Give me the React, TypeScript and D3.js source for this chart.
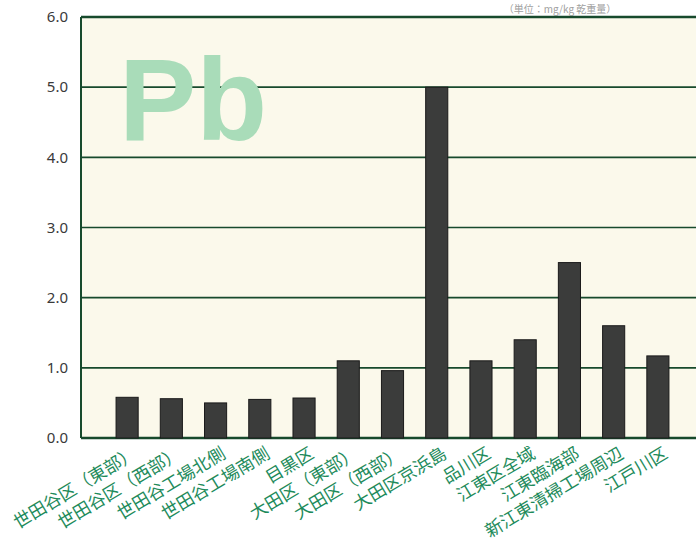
import React, { useRef, useEffect } from 'react';
import * as d3 from 'd3';

// 地点名
const sites: string[] = [
    "世田谷区（東部）",
    "世田谷区（西部）",
    "世田谷工場北側",
    "世田谷工場南側",
    "目黒区",
    "大田区（東部）",
    "大田区（西部）",
    "大田区京浜島",
    "品川区",
    "江東区全域",
    "江東臨海部",
    "新江東清掃工場周辺",
    "江戸川区",
];

// Pb 濃度
const pbValues: number[] = [0.58, 0.56, 0.5, 0.55, 0.57, 1.1, 0.96, 5.0, 1.1, 1.4, 2.5, 1.6, 1.17];

const yTicks: number[] = [0, 1, 2, 3, 4, 5, 6];

function App() {
    const svgRef = useRef<SVGSVGElement | null>(null);

    useEffect(() => {
        if (!svgRef.current) return;
        d3.select(svgRef.current).selectAll("*").remove();

        const width = 696;
        const height = 552;
        const plotLeft = 81;
        const plotRight = 700;
        const plotTop = 17;
        const plotBottom = 438;

        const x = d3.scaleBand<string>()
            .domain(sites)
            .range([105, 680])
            .paddingInner(0.5)
            .paddingOuter(0.25);

        const y = d3.scaleLinear()
            .domain([0, 6])
            .range([plotBottom, plotTop]);

        const svg = d3.select(svgRef.current)
            .attr("width", width)
            .attr("height", height);

        // header
        svg.append("text")
            .attr("x", 560)
            .attr("y", 13)
            .attr("text-anchor", "middle")
            .attr("font-family", "'Noto Sans CJK JP', sans-serif")
            .attr("font-size", 10)
            .attr("fill", "#a0a0a0")
            .text("（単位：mg/kg 乾重量）");

        // plot background
        svg.append("rect")
            .attr("x", plotLeft)
            .attr("y", plotTop)
            .attr("width", plotRight - plotLeft)
            .attr("height", plotBottom - plotTop)
            .attr("fill", "#fbf9eb");

        // grid lines
        svg.append("g")
            .selectAll("line")
            .data(yTicks)
            .join("line")
            .attr("x1", plotLeft)
            .attr("x2", plotRight)
            .attr("y1", d => y(d))
            .attr("y2", d => y(d))
            .attr("stroke", "#174a2c")
            .attr("stroke-width", d => (d === 6 || d === 0) ? 2.5 : 1.6);

        // Pb watermark
        svg.append("text")
            .attr("x", 119)
            .attr("y", 140)
            .attr("font-family", "'Liberation Sans', Arial, sans-serif")
            .attr("font-weight", "bold")
            .attr("font-size", 116)
            .attr("fill", "#a9dcb9")
            .text("Pb");

        // left axis line
        svg.append("line")
            .attr("x1", plotLeft)
            .attr("x2", plotLeft)
            .attr("y1", plotTop)
            .attr("y2", plotBottom)
            .attr("stroke", "#174a2c")
            .attr("stroke-width", 2);

        // bars
        svg.append("g")
            .selectAll("rect")
            .data(pbValues)
            .join("rect")
            .attr("x", (_, i) => x(sites[i])!)
            .attr("y", d => y(d))
            .attr("width", x.bandwidth())
            .attr("height", d => y(0) - y(d))
            .attr("fill", "#3b3c3b")
            .attr("stroke", "#1a1a1a")
            .attr("stroke-width", 1);

        // y tick labels
        svg.append("g")
            .selectAll("text")
            .data(yTicks)
            .join("text")
            .attr("x", 68)
            .attr("y", d => y(d))
            .attr("dy", "0.35em")
            .attr("text-anchor", "end")
            .attr("font-family", "'Noto Sans', sans-serif")
            .attr("font-size", 15)
            .attr("fill", "#3a3a3a")
            .text(d => d3.format(".1f")(d));

        // rotated site labels
        svg.append("g")
            .selectAll("text")
            .data(sites)
            .join("text")
            .attr("transform", d => `translate(${x(d)! + x.bandwidth() / 2 + 4},${plotBottom + 7}) rotate(-31)`)
            .attr("dy", 14)
            .attr("text-anchor", "end")
            .attr("font-family", "'Noto Sans CJK JP', sans-serif")
            .attr("font-size", 17.5)
            .attr("fill", "#1e8b5b")
            .text(d => d);

    }, []);

    return (
        <div style={{ position: "absolute", left: 0, top: 0 }}>
            <svg ref={svgRef} style={{ display: "block" }}></svg>
        </div>
    );
}

export default App;
